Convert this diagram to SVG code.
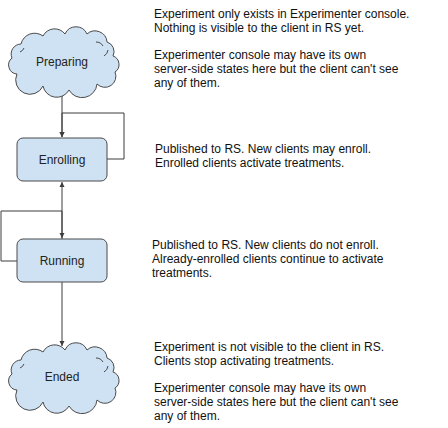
<svg xmlns="http://www.w3.org/2000/svg" width="448" height="428" viewBox="0 0 448 428">
<style>
.cloud{fill:#cfe2f3;stroke:#4a4a4a;stroke-width:1}
.box{fill:#cfe2f3;stroke:#4a4a4a;stroke-width:1}
.inner{fill:none;stroke:#4a4a4a;stroke-width:1}
.lbl{font-family:"Liberation Sans",Arial,sans-serif;font-size:12px;fill:#222;text-anchor:middle}
.note{font-family:"Liberation Sans",Arial,sans-serif;font-size:12px;fill:#111}
.conn{fill:none;stroke:#3c3c3c;stroke-width:1}
</style>
<defs>
<marker id="arr" markerWidth="6" markerHeight="6" refX="5" refY="3" orient="auto" markerUnits="userSpaceOnUse">
<path d="M0,0.5 L5,3 L0,5.5 Z" fill="#3c3c3c"/>
</marker>
<path id="cloudShape" d="M10,44 A9,9 0 0 1 5,28 A10,10 0 0 1 14,14 A14,14 0 0 1 36,6 A13,13 0 0 1 58,4 A12,12 0 0 1 80,4 A12,12 0 0 1 100,12 A10,10 0 0 1 106,26 A9,9 0 0 1 108,42 A11,11 0 0 1 90,54 A15,15 0 0 1 62,60 A14,14 0 0 1 36,56 A12,12 0 0 1 10,44 Z"/>
</defs>
<g id="connectors">
<path class="conn" d="M62,90 L62,137" marker-end="url(#arr)"/>
<path class="conn" d="M107,159 L124,159 L124,113 L62,113 L62,137" marker-end="url(#arr)"/>
<path class="conn" d="M62,239 L62,182" marker-end="url(#arr)"/>
<path class="conn" d="M17,261 L1,261 L1,211 L62,211 L62,238" marker-end="url(#arr)"/>
<path class="conn" d="M62,282 L62,346" marker-end="url(#arr)"/>
</g>
<g id="preparing">
<use href="#cloudShape" class="cloud" transform="translate(7,30)"/>
<path class="inner" d="M20,52 A7,7 0 0 0 24,48 M104,56 A8,8 0 0 0 108,50 M96,42 A8,8 0 0 1 103,46"/>
<text class="lbl" x="62" y="66">Preparing</text>
</g>
<g id="enrolling">
<rect class="box" x="17" y="138" width="90" height="43" rx="6"/>
<text class="lbl" x="62" y="164">Enrolling</text>
</g>
<g id="running">
<rect class="box" x="17" y="239" width="90" height="43" rx="6"/>
<text class="lbl" x="62" y="265">Running</text>
</g>
<g id="ended">
<use href="#cloudShape" class="cloud" transform="translate(7,346)"/>
<path class="inner" d="M20,368 A7,7 0 0 0 24,364 M104,372 A8,8 0 0 0 108,366 M96,358 A8,8 0 0 1 103,362"/>
<text class="lbl" x="62" y="381">Ended</text>
</g>
<g id="notes">
<text class="note" x="154" y="18">Experiment only exists in Experimenter console.</text>
<text class="note" x="154" y="31.8">Nothing is visible to the client in RS yet.</text>
<text class="note" x="154" y="59.4">Experimenter console may have its own</text>
<text class="note" x="154" y="73.2">server-side states here but the client can't see</text>
<text class="note" x="154" y="87">any of them.</text>
<text class="note" x="155" y="153">Published to RS. New clients may enroll.</text>
<text class="note" x="155" y="166.8">Enrolled clients activate treatments.</text>
<text class="note" x="152" y="249">Published to RS. New clients do not enroll.</text>
<text class="note" x="152" y="262.8">Already-enrolled clients continue to activate</text>
<text class="note" x="152" y="276.6">treatments.</text>
<text class="note" x="154" y="351">Experiment is not visible to the client in RS.</text>
<text class="note" x="154" y="364.8">Clients stop activating treatments.</text>
<text class="note" x="154" y="392.4">Experimenter console may have its own</text>
<text class="note" x="154" y="406.2">server-side states here but the client can't see</text>
<text class="note" x="154" y="420">any of them.</text>
</g>
</svg>
